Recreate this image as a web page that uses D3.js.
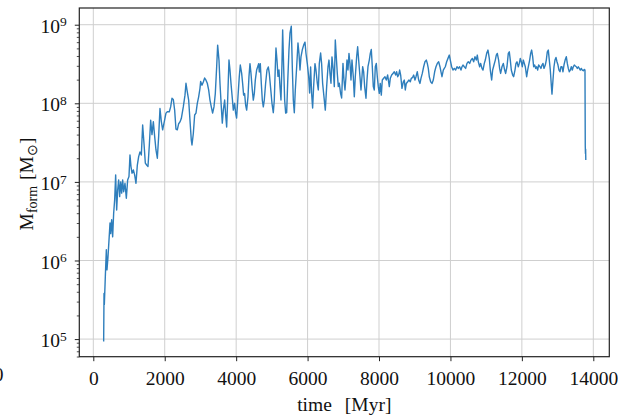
<!DOCTYPE html>
<html>
<head>
<meta charset="utf-8">
<script src="https://cdn.jsdelivr.net/npm/d3@7"></script>
<style>
  html, body { margin: 0; padding: 0; background: #fff; }
  svg { display: block; }
  text { font-family: "Liberation Serif", "Times New Roman", serif; fill: #111; }
</style>
</head>
<body>
<svg id="chart" width="618" height="416"></svg>
<script>
// ---- data ----
const timeMyr = [
  290, 300, 309, 337, 365, 383, 412, 440, 468, 486, 514, 542, 570, 598, 626, 654, 682, 710, 738, 766,
  794, 822, 850, 887, 925, 962, 999, 1027, 1055, 1084, 1121, 1158, 1195, 1233, 1270, 1307, 1345, 1382, 1419, 1457,
  1494, 1531, 1569, 1606, 1643, 1681, 1718, 1755, 1793, 1830, 1867, 1905, 1942,
  2035, 2072, 2128, 2166, 2203, 2240, 2278, 2315, 2352, 2390, 2427, 2464, 2520, 2567, 2595, 2632, 2670, 2707, 2744, 2763,
  2800, 2838, 2875, 2912, 2950, 2987, 3006, 3043, 3080, 3118, 3155, 3192, 3230, 3267, 3304, 3341, 3379, 3416, 3454, 3482,
  3519, 3547, 3584, 3612, 3640, 3678, 3706, 3734, 3762, 3799, 3827, 3855, 3892, 3920, 3958, 3985, 4013, 4051, 4088, 4116,
  4154, 4181, 4209, 4237, 4265, 4294, 4331, 4359, 4387, 4415, 4452, 4480, 4508, 4536, 4573, 4601, 4630, 4648, 4676, 4704,
  4732, 4760, 4788, 4825, 4863, 4900, 4928, 4966, 5003, 5040, 5068, 5096, 5115, 5143, 5171, 5199, 5227, 5255, 5283, 5302,
  5330, 5358, 5386, 5414, 5442, 5479, 5507, 5544, 5572, 5600, 5628, 5656, 5694, 5731, 5759, 5787, 5815, 5852, 5890, 5927,
  5955, 5992, 6030, 6057, 6085, 6113, 6141, 6169, 6207, 6235, 6272, 6300, 6328, 6365, 6393, 6421, 6459, 6496, 6534, 6571,
  6599, 6627, 6655, 6683, 6720, 6748, 6776, 6804, 6832, 6860, 6888, 6925, 6953,
  6991, 7019, 7047, 7075, 7103, 7131, 7159, 7187, 7215, 7243, 7280, 7308, 7336, 7374, 7402, 7430, 7467, 7495, 7523, 7542,
  7570, 7598, 7635, 7663, 7691, 7728, 7756, 7784, 7812, 7840, 7868, 7896, 7924, 7952, 7980, 8008, 8036, 8064, 8092, 8130,
  8167, 8204, 8242, 8288, 8316, 8354, 8391, 8428, 8466, 8494, 8522, 8550, 8578, 8606, 8643, 8680, 8708, 8736, 8764, 8802,
  8839, 8876, 8904, 8942, 8970, 9007, 9035, 9072, 9110, 9147, 9175, 9212, 9250, 9287, 9324, 9352, 9380, 9408, 9446, 9483,
  9520, 9558, 9595, 9632, 9670, 9707, 9735, 9763, 9800, 9828, 9856, 9894, 9931, 9968, 9996, 10034, 10071, 10108, 10146, 10183,
  10220, 10258, 10295, 10323, 10351, 10388, 10426, 10463, 10500, 10538, 10575, 10612, 10650, 10687, 10724, 10752, 10780, 10818, 10846, 10883,
  10911, 10948, 10976, 11014, 11051, 11088, 11116, 11154, 11182, 11219, 11256, 11284, 11312, 11349, 11377, 11405, 11443, 11480, 11518, 11546,
  11583, 11620, 11648, 11676, 11704, 11742, 11770, 11807, 11835, 11863, 11900, 11928, 11956, 11984, 12012, 12040, 12068, 12096, 12134, 12162,
  12190, 12218, 12246, 12274, 12302, 12330, 12358, 12386, 12414, 12442, 12469, 12507, 12535, 12563, 12591, 12619, 12656, 12684, 12712, 12740,
  12768, 12796, 12824, 12843, 12871, 12899, 12927, 12955, 12983, 13011, 13039, 13067, 13095, 13123, 13151, 13179, 13216, 13244, 13272, 13300,
  13328, 13356, 13384, 13412, 13440, 13468, 13496, 13524, 13552, 13580, 13608, 13636, 13664, 13692, 13720, 13748, 13767,
  13775, 13780, 13785, 13790
];
const massForm = [
  9.3e4, 3.8e5, 2.75e5, 6.3e5, 1.37e6, 7.6e5, 1.12e6, 1.83e6, 3.0e6, 2.2e6, 3.3e6, 2.0e6, 4.0e6, 5.9e6, 1.23e7, 4.4e6, 7.9e6, 1.06e7, 6.5e6, 1.0e7,
  7.2e6, 1.06e7, 7.5e6, 9.6e6, 6.2e6, 1.06e7, 1.17e7, 2.2e7, 1.57e7, 1.29e7, 1.42e7, 1.23e7, 9.6e6, 1.64e7, 2.1e7, 2.4e7, 2.2e7, 5.3e7, 3.1e7, 1.73e7,
  1.64e7, 1.57e7, 2.95e7, 6.1e7, 4.0e7, 5.85e7, 3.8e7, 2.55e7, 2.0e7, 3.8e7, 8.6e7, 5.85e7, 4.6e7,
  7.5e7, 7.8e7, 7.8e7, 9.0e7, 1.16e8, 1.12e8, 8.2e7, 4.7e7, 4.6e7, 5.5e7, 5.8e7, 6.4e7, 9.0e7, 1.27e8, 1.8e8, 1.4e8, 1.1e8, 6.1e7, 3.4e7, 2.95e7,
  4.1e7, 7.1e7, 7.5e7, 1.0e8, 1.21e8, 1.55e8, 1.9e8, 1.7e8, 1.87e8, 2.1e8, 1.97e8, 1.8e8, 1.48e8, 1.1e8, 9.0e7, 7.5e7, 9.0e7, 1.33e8, 2.9e8, 5.5e8,
  3.55e8, 1.8e8, 9.0e7, 5.6e7, 8.2e7, 1.1e8, 7.1e7, 5.0e7, 1.1e8, 3.55e8, 2.65e8, 1.8e8, 1.16e8, 8.2e7, 1.0e8, 7.5e7, 6.5e7, 1.21e8, 2.2e8, 3.07e8,
  2.4e8, 1.8e8, 1.27e8, 1.33e8, 9.5e7, 8.2e7, 1.21e8, 2.2e8, 3.2e8, 2.4e8, 1.48e8, 1.1e8, 1.33e8, 1.97e8, 2.65e8, 2.9e8, 3.2e8, 2.5e8, 3.2e8, 1.8e8,
  1.1e8, 9.0e7, 1.1e8, 1.8e8, 2.65e8, 2.9e8, 2.4e8, 1.55e8, 1.0e8, 7.6e7, 1.1e8, 2.9e8, 5.06e8, 3.55e8, 2.2e8, 2.65e8, 1.63e8, 1.1e8, 3.2e8, 8.6e8,
  2.9e8, 1.1e8, 7.5e7, 7.6e7, 1.8e8, 4.8e8, 7.8e8, 9.6e8, 2.9e8, 1.1e8, 7.6e7, 1.48e8, 2.9e8, 5.85e8, 4.3e8, 2.65e8, 3.9e8, 4.8e8, 5.5e8, 6.0e8,
  4.3e8, 3.2e8, 2.2e8, 1.35e8, 2.9e8, 1.33e8, 8.7e7, 1.63e8, 3.2e8, 2.65e8, 1.8e8, 1.48e8, 3.2e8, 4.36e8, 3.2e8, 1.8e8, 1.21e8, 8.2e7, 1.63e8, 2.9e8,
  3.55e8, 2.4e8, 1.8e8, 3.9e8, 2.65e8, 1.63e8, 6.4e8, 3.9e8, 2.4e8, 1.63e8, 1.8e8, 1.33e8, 1.17e8,
  3.22e8, 1.98e8, 1.48e8, 2.18e8, 3.55e8, 2.65e8, 4.32e8, 3.22e8, 1.98e8, 3.55e8, 2.18e8, 1.21e8, 2.18e8, 3.92e8, 5.25e8, 3.55e8, 2.18e8, 1.48e8, 2.18e8, 2.92e8,
  2.52e8, 1.63e8, 1.16e8, 1.98e8, 2.92e8, 3.55e8, 4.32e8, 4.85e8, 2.92e8, 1.63e8, 1.48e8, 2.92e8, 3.22e8, 2.18e8, 1.63e8, 1.34e8, 1.79e8, 1.27e8, 1.98e8, 2.08e8,
  2.18e8, 1.98e8, 2.29e8, 1.63e8, 2.08e8, 2.29e8, 2.40e8, 2.52e8, 2.29e8, 2.52e8, 2.18e8, 2.29e8, 2.65e8, 2.29e8, 1.55e8, 1.88e8, 1.98e8, 1.48e8, 1.79e8, 1.88e8,
  1.98e8, 1.88e8, 2.08e8, 2.14e8, 2.29e8, 1.98e8, 2.18e8, 2.52e8, 1.98e8, 1.79e8, 2.08e8, 2.40e8, 2.92e8, 3.38e8, 3.55e8, 3.22e8, 2.78e8, 2.18e8, 1.88e8, 1.79e8,
  1.98e8, 2.52e8, 2.92e8, 3.22e8, 3.38e8, 2.92e8, 2.52e8, 2.18e8, 2.65e8, 2.78e8, 2.92e8, 3.38e8, 3.73e8, 4.11e8, 3.55e8, 2.92e8, 2.65e8, 2.78e8, 2.65e8, 2.92e8,
  2.78e8, 2.92e8, 2.65e8, 2.92e8, 3.07e8, 2.92e8, 2.78e8, 3.22e8, 3.38e8, 3.22e8, 3.55e8, 3.73e8, 3.38e8, 3.92e8, 3.55e8, 4.11e8, 3.38e8, 2.92e8, 3.22e8, 2.78e8,
  2.65e8, 3.22e8, 3.55e8, 4.32e8, 4.76e8, 3.73e8, 2.65e8, 1.98e8, 2.65e8, 3.07e8, 3.55e8, 4.11e8, 4.32e8, 3.55e8, 2.78e8, 2.40e8, 2.92e8, 3.22e8, 2.65e8, 2.40e8,
  2.92e8, 4.32e8, 4.53e8, 3.55e8, 2.65e8, 2.29e8, 2.18e8, 2.65e8, 3.22e8, 3.38e8, 2.92e8, 3.22e8, 3.73e8, 3.38e8, 2.92e8, 3.55e8, 3.22e8, 2.92e8, 2.18e8, 2.65e8,
  3.07e8, 3.55e8, 4.32e8, 4.76e8, 3.92e8, 2.92e8, 3.07e8, 2.78e8, 2.92e8, 2.65e8, 3.07e8, 2.92e8, 2.78e8, 3.07e8, 3.22e8, 2.78e8, 3.07e8, 3.55e8, 4.53e8, 4.76e8,
  3.55e8, 2.65e8, 1.71e8, 1.31e8, 1.98e8, 2.92e8, 3.55e8, 3.84e8, 3.38e8, 3.07e8, 2.65e8, 2.52e8, 2.92e8, 2.92e8, 2.52e8, 3.07e8, 3.62e8, 3.92e8, 3.22e8, 2.78e8,
  2.52e8, 2.65e8, 2.92e8, 2.65e8, 2.92e8, 3.07e8, 2.98e8, 2.92e8, 2.78e8, 2.92e8, 2.78e8, 2.65e8, 2.78e8, 2.65e8, 2.60e8, 2.70e8, 2.65e8,
  2.9e7, 2.3e7, 2.6e7, 1.9e7
];
const xTickValues = [0, 2000, 4000, 6000, 8000, 10000, 12000, 14000];
const yTickExponents = [5, 6, 7, 8, 9];

// ---- layout ----
const W = 618, H = 416;
const mLeft = 79.3, mRight = 609.3, mTop = 8, mBottom = 356.7;
const FS = 19.5;

const svg = d3.select("#chart");
svg.append("rect").attr("width", W).attr("height", H).attr("fill", "#fff");

const x = d3.scaleLinear().domain([-392, 14448]).range([mLeft, mRight]);
const y = d3.scaleLog().domain([5.97e4, 1.632e9]).range([mBottom, mTop]);

const yTickValues = yTickExponents.map(e => Math.pow(10, e));
const yMinor = [];
for (let e = 4; e <= 9; e++) for (let k = 2; k <= 9; k++) {
  const v = k * Math.pow(10, e);
  if (v >= y.domain()[0] && v <= y.domain()[1]) yMinor.push(v);
}

// grid
const grid = svg.append("g").attr("stroke", "#cfcfcf").attr("stroke-width", 1);
xTickValues.forEach(t => grid.append("line")
  .attr("x1", x(t)).attr("x2", x(t)).attr("y1", mTop).attr("y2", mBottom));
yTickValues.forEach(v => grid.append("line")
  .attr("x1", mLeft).attr("x2", mRight).attr("y1", y(v)).attr("y2", y(v)));

// line
const n = Math.min(timeMyr.length, massForm.length);
const data = d3.range(n).map(i => ({ t: timeMyr[i], m: massForm[i] }));
svg.append("path").datum(data)
  .attr("fill", "none")
  .attr("stroke", "#2e7ebc")
  .attr("stroke-width", 1.4)
  .attr("stroke-linejoin", "round")
  .attr("d", d3.line().x(d => x(d.t)).y(d => y(d.m)));

// frame
svg.append("rect")
  .attr("x", mLeft).attr("y", mTop)
  .attr("width", mRight - mLeft).attr("height", mBottom - mTop)
  .attr("fill", "none").attr("stroke", "#222").attr("stroke-width", 1.2);

// x axis
const gx = svg.append("g").attr("transform", `translate(0,${mBottom})`)
  .call(d3.axisBottom(x).tickValues(xTickValues).tickSize(4.5).tickSizeOuter(0).tickFormat(d3.format("d")));
gx.select(".domain").remove();
gx.selectAll(".tick line").attr("stroke", "#222").attr("stroke-width", 1);
gx.selectAll(".tick text")
  .attr("dy", null).attr("y", 28.8)
  .attr("font-size", FS).attr("font-family", "Liberation Serif").attr("fill", "#111");

// y axis (major)
const gy = svg.append("g").attr("transform", `translate(${mLeft},0)`)
  .call(d3.axisLeft(y).tickValues(yTickValues).tickSize(4.5).tickSizeOuter(0).tickFormat(""));
gy.select(".domain").remove();
gy.selectAll(".tick line").attr("stroke", "#222").attr("stroke-width", 1);
gy.selectAll(".tick").each(function(d) {
  const e = Math.round(Math.log10(d));
  const txt = d3.select(this).append("text")
    .attr("x", -12.6).attr("y", 7.6)
    .attr("text-anchor", "end")
    .attr("font-size", FS).attr("fill", "#111");
  txt.append("tspan").text("10");
  txt.append("tspan").attr("dy", -6.5).attr("font-size", 13.5).text(e);
});

// y axis (minor)
const gym = svg.append("g").attr("transform", `translate(${mLeft},0)`)
  .call(d3.axisLeft(y).tickValues(yMinor).tickSize(2.5).tickSizeOuter(0).tickFormat(""));
gym.select(".domain").remove();
gym.selectAll(".tick line").attr("stroke", "#222").attr("stroke-width", 0.8);

// x label
const xl = svg.append("text")
  .attr("x", (mLeft + mRight) / 2).attr("y", 411)
  .attr("text-anchor", "middle").attr("font-size", FS);
xl.append("tspan").text("time");
xl.append("tspan").attr("dx", 13).text("[Myr]");

// y label
const yl = svg.append("text")
  .attr("transform", `translate(33,184) rotate(-90)`)
  .attr("text-anchor", "middle").attr("font-size", FS);
yl.append("tspan").text("M");
yl.append("tspan").attr("font-size", 14).attr("dy", 4).text("form");
yl.append("tspan").attr("dy", -4).attr("dx", 6).text("[M");
yl.append("tspan").attr("font-size", 14).attr("dy", 4).text("\u2299");
yl.append("tspan").attr("dy", -4).text("]");

// stray fragment at the left edge (from neighbouring panel)
svg.append("text").attr("x", 3.5).attr("y", 381)
  .attr("text-anchor", "end").attr("font-size", FS).text("0");
</script>
</body>
</html>
